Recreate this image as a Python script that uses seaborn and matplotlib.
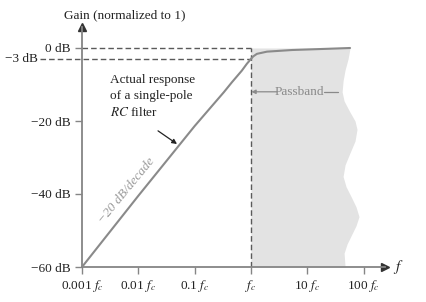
import numpy as np
import pandas as pd
import seaborn as sns
from matplotlib import pyplot as plt
from matplotlib.ticker import FixedLocator, NullLocator

# ===== data (frequency in units of fc, gain in dB) =====
resp_f = [0.001, 0.01, 0.1, 0.331, 0.459, 0.69, 0.85, 0.93, 1.0, 1.1, 1.28, 1.93, 5.4, 18.3, 57.7]
resp_db = [-60, -40.5, -21.4, -12.1, -9.4, -6.2, -4.3, -3.6, -3.0, -2.3, -1.6, -1.0, -0.55, -0.27, 0]

# wavy right edge of the shaded passband
edge_db = [0, -3, -6, -9, -12, -14.5, -17.2, -20, -22.3, -25.5, -28.7, -32, -35.2,
           -38, -40.7, -43.5, -46.2, -48.7, -51.2, -53.7, -56.2, -60]
edge_f = [57.7, 53.2, 47.1, 43.4, 41.7, 45.2, 55.8, 70.7, 76.7, 70.7, 57.7, 47.1, 43.4,
          49.0, 60.1, 73.6, 83.2, 73.6, 61.3, 51.1, 45.2, 47.1]

x_ticks = [0.001, 0.01, 0.1, 1, 10, 100]
x_labels = [r"0.001 $f_c$", r"0.01 $f_c$", r"0.1 $f_c$", r"$f_c$", r"10 $f_c$", r"100 $f_c$"]
y_ticks = [0, -20, -40, -60]
y_labels = ["0 dB", "\u221220 dB", "\u221240 dB", "\u221260 dB"]

fc = 1.0
axis_gray = "#858585"
line_gray = "#8a8a8a"
dash_gray = "#5a5a5a"

sns.set_theme(style="white")
plt.rcParams["font.family"] = ["Liberation Serif", "DejaVu Serif"]
plt.rcParams["mathtext.fontset"] = "stix"

fig = plt.figure(figsize=(4.26, 3.02), dpi=100)
ax = fig.add_axes([82 / 426, 35 / 302, 303 / 426, 240 / 302])
ax.set_xscale("log")
ax.set_xlim(1e-3, 10 ** (-3 + 303 / 56.3))
ax.set_ylim(-60, -60 + 240 / 3.65)

# shaded passband
ax.fill_betweenx(edge_db, fc, edge_f, color="#e3e3e3", lw=0, zorder=0)

# reference dashed lines
ax.plot([1e-3, fc], [0, 0], color=dash_gray, lw=1.0, ls=(0, (4, 2.2)), zorder=1)
ax.plot([1.8e-4, fc], [-3, -3], color=dash_gray, lw=1.0, ls=(0, (4, 2.2)),
        clip_on=False, zorder=1)
ax.plot([fc, fc], [-60, 0], color=dash_gray, lw=1.0, ls=(0, (4, 2.2)), zorder=1)

# response curve
df = pd.DataFrame({"f": resp_f, "gain": resp_db})
sns.lineplot(data=df, x="f", y="gain", ax=ax, color=line_gray, lw=1.5, zorder=3)
ax.set_xlabel("")
ax.set_ylabel("")

# axes / spines
for side in ["top", "right"]:
    ax.spines[side].set_visible(False)
for side in ["left", "bottom"]:
    ax.spines[side].set_color(axis_gray)
    ax.spines[side].set_linewidth(1.3)
ax.plot(1, 0, marker=">", color="#333333", ms=5.5, transform=ax.transAxes, clip_on=False)
ax.plot(0, 1, marker="^", color="#333333", ms=5.5, transform=ax.transAxes, clip_on=False)

ax.xaxis.set_major_locator(FixedLocator(x_ticks))
ax.xaxis.set_minor_locator(NullLocator())
ax.set_xticklabels(x_labels)
ax.set_yticks(y_ticks)
ax.set_yticklabels(y_labels)
ax.tick_params(axis="both", length=5, width=1, color=axis_gray, labelsize=9.5,
               labelcolor="#222222", pad=3, direction="out", bottom=True, left=True)

ax.text(1.8e-4 / 1.08, -3, "\u22123 dB", ha="right", va="center", fontsize=9.5,
        color="#222222")
ax.text(0.142, 1.05, "Gain (normalized to 1)", transform=ax.transAxes, fontsize=9.5,
        ha="center", va="center", color="#222222")
ax.text(1.025, 0, r"$f$", transform=ax.transAxes, fontsize=11, ha="left", va="center",
        color="#222222")

# annotation
ax.text(0.00314, -7.0, "Actual response\nof a single-pole\n$RC$ filter", fontsize=9.5,
        ha="left", va="top", linespacing=1.45, color="#222222")
ax.annotate("", xy=(0.0487, -26.3), xytext=(0.0224, -22.7),
            arrowprops=dict(arrowstyle="-|>", color="#222222", lw=0.9,
                            mutation_scale=7, shrinkA=0, shrinkB=0))
ax.text(0.0063, -39.2, "\u221220 dB/decade", fontsize=9.5, style="italic",
        color="#9a9a9a", rotation=50.5, ha="center", va="center",
        rotation_mode="anchor")

# passband label
ax.text(7.4, -12.0, "Passband", fontsize=9.5, color="#8a8a8a", ha="center", va="center")
ax.annotate("", xy=(1.02, -12.0), xytext=(2.9, -12.0),
            arrowprops=dict(arrowstyle="-|>", color="#8a8a8a", lw=0.9,
                            mutation_scale=6, shrinkA=0, shrinkB=0))
ax.plot([19.8, 35], [-12.0, -12.0], color="#8a8a8a", lw=0.9)

fig.savefig("out.png", dpi=100)
